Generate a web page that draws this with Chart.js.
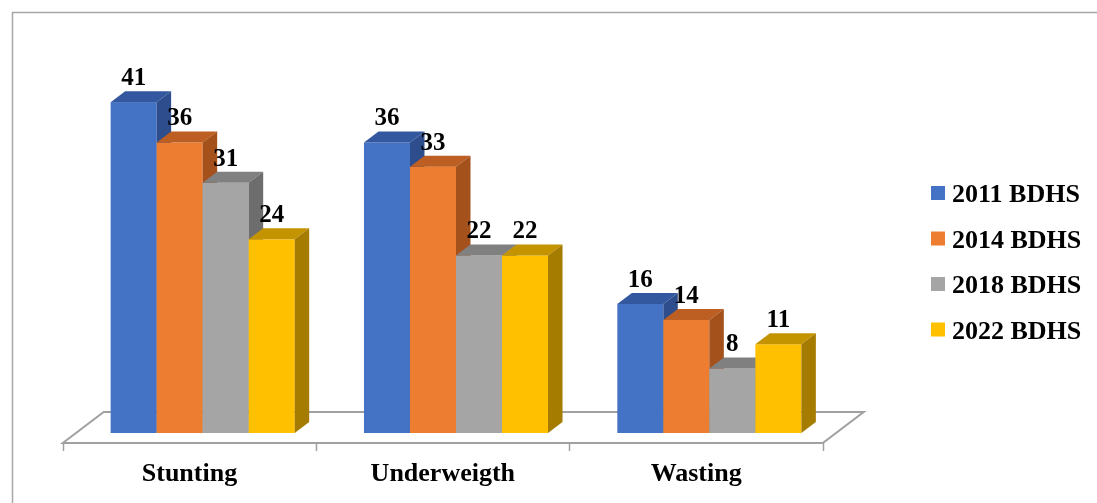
<!DOCTYPE html>
<html>
<head>
<meta charset="utf-8">
<script src="https://cdn.jsdelivr.net/npm/chart.js@4"></script>
<style>
  html, body { margin: 0; padding: 0; background: #ffffff; }
  #wrap { position: relative; width: 1097px; height: 503px; overflow: hidden; }
</style>
</head>
<body>
<div id="wrap"><canvas id="chart" width="1097" height="503"></canvas></div>
<script>
// Malnutrition indicators among children, by survey round
const categories = ['Stunting', 'Underweigth', 'Wasting'];
const seriesLabels = ['2011 BDHS', '2014 BDHS', '2018 BDHS', '2022 BDHS'];
const bdhs2011 = [41, 36, 16];
const bdhs2014 = [36, 33, 14];
const bdhs2018 = [31, 22, 8];
const bdhs2022 = [24, 22, 11];
const yMin = 0;
const yMax = 50;

const frontColors = ['#4472C4', '#ED7D31', '#A5A5A5', '#FFC000'];
const topColors   = ['#34589F', '#BD5E22', '#808080', '#C49300'];
const sideColors  = ['#2D4D8C', '#A4511B', '#6D6D6D', '#A67C00'];

const FONT = '"Liberation Serif", "Times New Roman", serif';
const DX = 14.5;   // depth offset of each bar, horizontal
const DY = 11;     // depth offset of each bar, vertical
const FLOOR_FRONT = 10; // gap between bar front and floor front edge (vertical)
const FLOOR_BACK = 10;  // gap between bar back and floor back edge (vertical)

// Frame around the figure
const framePlugin = {
  id: 'frame',
  beforeDraw(chart) {
    const ctx = chart.ctx;
    ctx.save();
    ctx.fillStyle = '#ffffff';
    ctx.fillRect(0, 0, chart.width, chart.height);
    ctx.strokeStyle = '#a6a6a6';
    ctx.lineWidth = 1.5;
    ctx.strokeRect(12.5, 12.5, chart.width + 50, chart.height + 50);
    ctx.restore();
  }
};

// Floor slab, category ticks and category labels
const floorPlugin = {
  id: 'floor',
  beforeDatasetsDraw(chart) {
    const ctx = chart.ctx;
    const a = chart.chartArea;
    const xs = chart.scales.x;
    const ratio = DY / DX;
    const fy = a.bottom + FLOOR_FRONT;
    const by = a.bottom - DY - FLOOR_BACK;
    const fxOff = FLOOR_FRONT / ratio;
    const bxOff = (DY + FLOOR_BACK) / ratio;
    const fl = a.left - fxOff, fr = a.right - fxOff;
    const bl = a.left + bxOff, br = a.right + bxOff;
    ctx.save();
    ctx.strokeStyle = '#a0a0a0';
    ctx.lineWidth = 2;
    ctx.lineJoin = 'miter';
    ctx.beginPath();
    ctx.moveTo(fl, fy);
    ctx.lineTo(bl, by);
    ctx.lineTo(br, by);
    ctx.lineTo(fr, fy);
    ctx.closePath();
    ctx.stroke();
    // tick marks on the front edge
    ctx.lineWidth = 1.5;
    const n = categories.length;
    const step = (fr - fl) / n;
    for (let i = 0; i <= n; i++) {
      const x = Math.round(fl + i * step) + 0.5;
      ctx.beginPath();
      ctx.moveTo(x, fy);
      ctx.lineTo(x, fy + 8);
      ctx.stroke();
    }
    // category labels
    ctx.fillStyle = '#000000';
    ctx.font = 'bold 26px ' + FONT;
    ctx.textAlign = 'center';
    ctx.textBaseline = 'alphabetic';
    categories.forEach((c, i) => {
      ctx.fillText(c, xs.getPixelForValue(i) - fxOff, 481);
    });
    ctx.restore();
  }
};

// 3D bars with value labels
const bars3dPlugin = {
  id: 'bars3d',
  beforeDatasetsDraw(chart) {
    const ctx = chart.ctx;
    const items = [];
    chart.data.datasets.forEach((ds, di) => {
      const meta = chart.getDatasetMeta(di);
      meta.data.forEach((el, i) => {
        items.push({ el, di, v: ds.data[i] });
      });
    });
    items.sort((p, q) => p.el.x - q.el.x);
    ctx.save();
    items.forEach(({ el, di }) => {
      const w = el.width;
      const l = el.x - w / 2, r = el.x + w / 2;
      const t = el.y, b = el.base;
      // front face
      ctx.fillStyle = frontColors[di];
      ctx.fillRect(l, t, w, b - t);
      // top face
      ctx.fillStyle = topColors[di];
      ctx.beginPath();
      ctx.moveTo(l, t);
      ctx.lineTo(l + DX, t - DY);
      ctx.lineTo(r + DX, t - DY);
      ctx.lineTo(r, t);
      ctx.closePath();
      ctx.fill();
      // side face
      ctx.fillStyle = sideColors[di];
      ctx.beginPath();
      ctx.moveTo(r, t);
      ctx.lineTo(r + DX, t - DY);
      ctx.lineTo(r + DX, b - DY);
      ctx.lineTo(r, b);
      ctx.closePath();
      ctx.fill();
    });
    // value labels
    ctx.fillStyle = '#000000';
    ctx.font = 'bold 25px ' + FONT;
    ctx.textAlign = 'center';
    ctx.textBaseline = 'alphabetic';
    items.forEach(({ el, v }) => {
      ctx.fillText(String(v), el.x, el.y - DY - 6);
    });
    ctx.restore();
    return false;
  }
};

// Legend on the right
const legendPlugin = {
  id: 'sideLegend',
  afterDraw(chart) {
    const ctx = chart.ctx;
    ctx.save();
    ctx.font = 'bold 26px ' + FONT;
    ctx.textAlign = 'left';
    ctx.textBaseline = 'alphabetic';
    chart.data.datasets.forEach((ds, i) => {
      const cy = 193 + i * 45.5;
      ctx.fillStyle = ds.backgroundColor;
      ctx.fillRect(931, cy - 7, 14, 14);
      ctx.fillStyle = '#000000';
      ctx.fillText(ds.label, 952, cy + 9);
    });
    ctx.restore();
  }
};

const seriesValues = [bdhs2011, bdhs2014, bdhs2018, bdhs2022];

new Chart(document.getElementById('chart'), {
  type: 'bar',
  data: {
    labels: categories,
    datasets: seriesLabels.map((label, i) => ({
      label,
      data: seriesValues[i],
      backgroundColor: frontColors[i]
    }))
  },
  options: {
    responsive: false,
    animation: false,
    devicePixelRatio: 1,
    layout: { padding: { left: 76, right: 261, top: 29.5, bottom: 70 } },
    datasets: { bar: { barPercentage: 1, categoryPercentage: 0.7265 } },
    scales: {
      x: { display: false },
      y: { display: false, min: yMin, max: yMax }
    },
    plugins: {
      legend: { display: false },
      tooltip: { enabled: false }
    }
  },
  plugins: [framePlugin, floorPlugin, bars3dPlugin, legendPlugin]
});
</script>
</body>
</html>
